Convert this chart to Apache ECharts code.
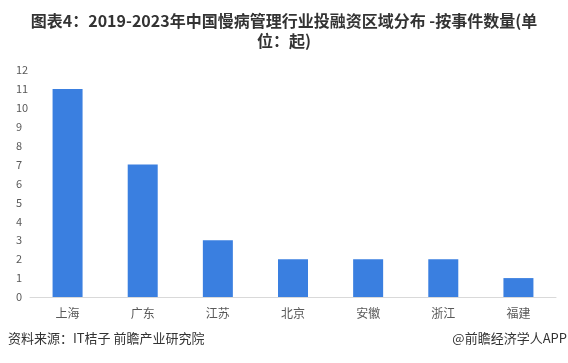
<!DOCTYPE html>
<html><head><meta charset="utf-8">
<script src="https://cdn.jsdelivr.net/npm/echarts@6/dist/echarts.min.js"></script>
<style>html,body{margin:0;padding:0;background:#fff}#c{width:568px;height:363px}</style>
</head><body><div id="c"></div>
<script>
const categories = ['上海','广东','江苏','北京','安徽','浙江','福建'];
const values = [11,7,3,2,2,2,1];
const yTicks = {min:0, max:12, interval:1};
const titleText = '图表4：2019-2023年中国慢病管理行业投融资区域分布 -按事件数量(单\n位：起)';
const sourceText = '资料来源：IT桔子 前瞻产业研究院';
const brandText = '@前瞻经济学人APP';

const chart = echarts.init(document.getElementById('c'), null, {renderer:'canvas'});
chart.setOption({
  animation:false,
  title:{text:titleText,left:'center',top:6,
    textStyle:{fontFamily:'Noto Sans CJK SC',fontWeight:'bold',fontSize:16,color:'#333',lineHeight:20}},
  graphic:[
    {type:'text',left:8,top:332,style:{text:sourceText,font:'13px "Noto Sans CJK SC"',fill:'#333'}},
    {type:'text',right:1,top:332,style:{text:brandText,font:'13px "Noto Sans CJK SC"',fill:'#333'}}
  ],
  grid:{left:30,right:12,top:70,bottom:66,containLabel:false},
  xAxis:{type:'category',data:categories,
    axisLine:{lineStyle:{color:'#d9d9d9'}},axisTick:{show:false},
    axisLabel:{color:'#595959',fontSize:12,margin:10,fontFamily:'Noto Sans CJK SC'}},
  yAxis:{type:'value',min:yTicks.min,max:yTicks.max,interval:yTicks.interval,
    splitLine:{show:false},axisLine:{show:false},axisTick:{show:false},
    axisLabel:{color:'#595959',fontSize:11,margin:14,align:'left',fontFamily:'Noto Sans CJK SC'}},
  series:[{type:'bar',data:values,barWidth:30,itemStyle:{color:'#3a7fe0'}}]
});
</script></body></html>
